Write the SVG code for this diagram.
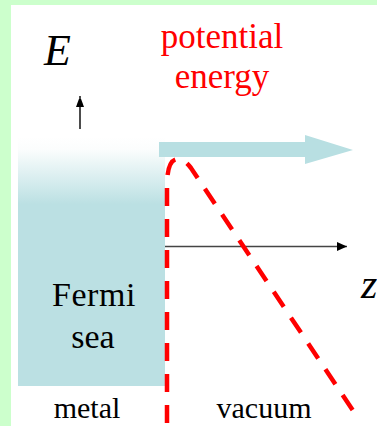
<svg xmlns="http://www.w3.org/2000/svg" width="377" height="426" viewBox="0 0 377 426">
<defs>
<linearGradient id="sea" x1="0" y1="0" x2="0" y2="1">
<stop offset="0" stop-color="#ffffff"/>
<stop offset="0.05" stop-color="#fbfdfd"/>
<stop offset="0.27" stop-color="#bbe0e3"/>
<stop offset="1" stop-color="#bbe0e3"/>
</linearGradient>
<marker id="ah" markerWidth="10" markerHeight="9" refX="10" refY="4.5" orient="auto" markerUnits="userSpaceOnUse">
<path d="M0,0 L10,4.5 L0,9 Z" fill="#000"/>
</marker>
<marker id="ahs" markerWidth="8" markerHeight="11" refX="11" refY="4" orient="auto" markerUnits="userSpaceOnUse">
<path d="M0,0 L11,4 L0,8 Z" fill="#000"/>
</marker>
</defs>
<style>
.red{fill:#ff0000}
.it{font-style:italic}
</style>
<rect x="0" y="0" width="377" height="426" fill="#ccffcc"/>
<rect x="11" y="5" width="366" height="421" fill="#ffffff"/>
<g id="fermi-sea" font-family="Liberation Serif">
<rect x="18" y="137" width="147" height="249" fill="url(#sea)"/>
<text x="94" y="306" font-size="34" letter-spacing="0.6" text-anchor="middle">Fermi</text>
<text x="93" y="348" font-size="34" text-anchor="middle">sea</text>
</g>
<g id="emission-arrow">
<path d="M159,142 L305,142 L305,135 L353,150 L305,164 L305,157 L159,157 Z" fill="#b8dfe2"/>
</g>
<g id="labels" font-family="Liberation Serif">
<text class="it" x="44" y="65" font-size="44">E</text>
<text class="red" x="222" y="48" font-size="35" text-anchor="middle">potential</text>
<text class="red" x="222" y="88" font-size="35" text-anchor="middle">energy</text>
<text class="it" x="361" y="298" font-size="42">z</text>
<text x="87" y="418" font-size="30" text-anchor="middle">metal</text>
<text x="264" y="418" font-size="30" text-anchor="middle">vacuum</text>
</g>
<g id="connectors">
<line x1="80" y1="129" x2="80" y2="96" stroke="#000" stroke-width="1.4" marker-end="url(#ahs)"/>
<line x1="165" y1="246.5" x2="347" y2="246.5" stroke="#444" stroke-width="1.4" marker-end="url(#ah)"/>
<path d="M167,426 L167,186 Q167,159 178,159 Q184,159 191,168 L358,418" fill="none" stroke="#ff0000" stroke-width="4.5" stroke-dasharray="18 13" stroke-dashoffset="28"/>
</g>
</svg>
